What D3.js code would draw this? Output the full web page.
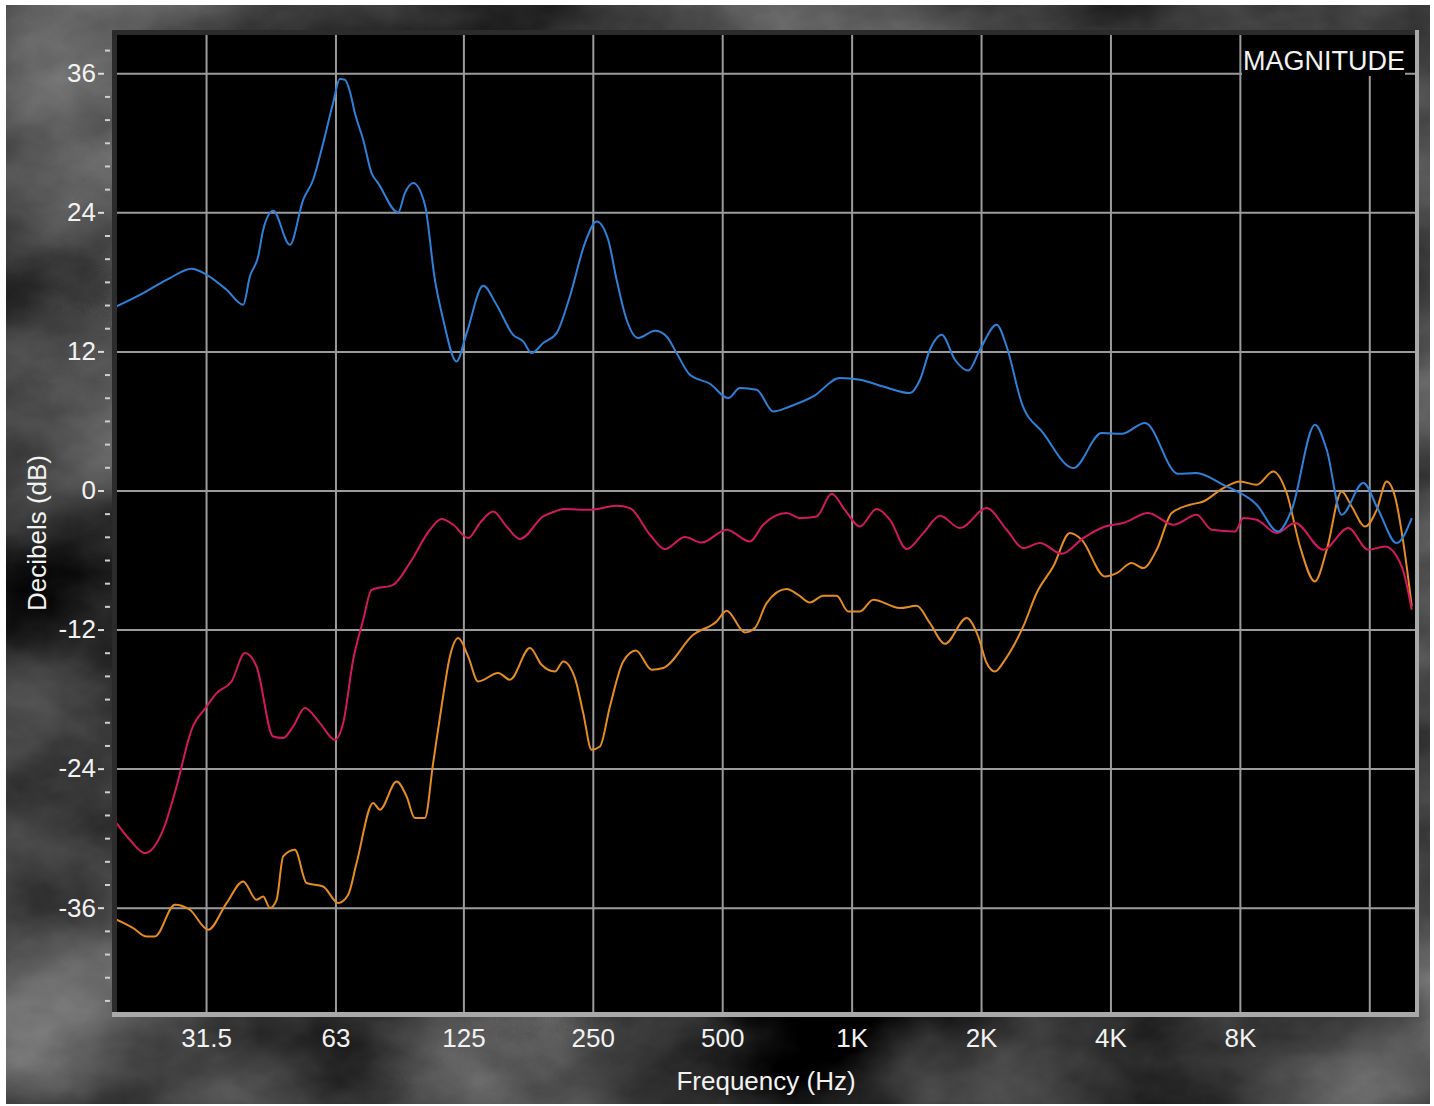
<!DOCTYPE html>
<html>
<head>
<meta charset="utf-8">
<script src="https://cdn.jsdelivr.net/npm/d3@7"></script>
<style>
  body { margin: 0; background: #fff; }
  text { font-family: "Liberation Sans", Arial, sans-serif; fill: #f2f2f2; }
</style>
</head>
<body>
<div class="chart"></div>
<script>
// Magnitude response chart (three traces, log frequency axis)

// ---- data ----
var blueHz = [19.5,22.5,25.95,29.14,31.6,35.16,38.43,39.83,41.64,42.78,
  45.12,49.34,52.99,55.9,58.98,62.2,64.5,66.26,68.06,69.9,
  73.09,76.44,79.19,88.15,91.37,95.53,101.7,107.3,112.2,120.5,
  127.2,139,149.3,163.2,172.2,180.1,191.7,205.9,221.1,239.7,
  255.2,271.5,284,299.6,318.8,348.7,371.2,391.6,420.6,468.1,
  516.4,549.7,601.2,657.1,718.6,814.1,939.3,1045,1184,1367,
  1442,1521,1620,1739,1868,1988,2174,2294,2487,2791,
  3278,3816,4248,4812,5742,6324,7321,8754,9812,10560,
  11960,12740,13800,15490,16790,18520,20090];
var blueDb = [15.88,17.03,18.33,19.13,18.61,17.32,16.02,18.46,20.19,22.49,
  24.13,21.2,25.08,26.81,29.97,33.43,35.5,35.44,34.43,32.56,
  30.26,27.39,26.52,23.99,25.66,26.52,24.65,18.18,14.73,11.13,
  13.58,17.66,16.02,13.43,12.86,11.86,12.72,13.58,16.74,21.35,
  23.21,21.63,18.18,14.73,13.15,13.78,13.29,11.86,9.98,9.21,
  7.97,8.84,8.69,6.82,7.25,8.11,9.70,9.55,8.97,8.40,
  9.55,12.14,13.43,11.28,10.35,12.14,14.3,12.42,7.54,4.95,
  1.93,4.95,4.89,5.82,1.44,1.50,0.49,-1.23,-3.54,-1.67,
  5.67,3.51,-2.10,0.64,-1.67,-4.54,-2.38];

var redHz = [19.5,20.94,22.7,25.03,26.9,29.14,31.6,33.32,36.11,38.78,
  41.28,45.12,47.61,50.23,53.48,57.95,62.8,65.66,69.27,73.09,
  76.44,85.82,93.85,104.5,111.2,118.4,128.2,136.6,146.6,157.5,
  169.2,191.7,204.1,213.4,246.2,284,305,339.5,367.8,409.5,
  447.7,511.9,580,622.7,706,758.2,829.1,898.3,964.7,1045,
  1143,1228,1343,1468,1605,1786,2061,2294,2508,2742,
  3080,3458,3884,4284,4898,5600,6348,6878,7794,8147,
  8754,9742,10750,12510,14300,15920,17400,19040,20090];
var redDb = [-28.7,-30.14,-31.29,-29.28,-25.54,-20.65,-18.64,-17.48,-16.48,-14.03,
  -15.19,-21.23,-21.36,-20.36,-18.77,-20.07,-21.51,-20.07,-14.61,-11.16,
  -8.57,-8.14,-6.26,-3.39,-2.47,-2.96,-4.11,-2.81,-1.81,-3.11,
  -4.19,-2.24,-1.81,-1.60,-1.67,-1.32,-1.52,-3.82,-5.06,-4.02,
  -4.49,-3.39,-4.40,-2.96,-1.95,-2.38,-2.24,-0.28,-1.67,-3.11,
  -1.60,-2.53,-5.06,-3.68,-2.18,-3.24,-1.52,-3.39,-4.97,-4.54,
  -5.46,-4.11,-3.11,-2.81,-1.95,-2.96,-2.10,-3.39,-3.54,-2.38,
  -2.53,-3.68,-2.81,-5.12,-3.24,-5.12,-4.83,-6.56,-10.29];

var orangeHz = [19.5,21.32,22.9,23.95,26.66,28.88,31.86,35.16,38.43,41.28,
  42.78,44.34,45.96,47.61,50.69,53.98,58.98,63.93,67.44,70.54,
  77.1,79.92,87.39,92.21,96.4,101.7,106.3,111.2,116.3,121.6,
  128.2,135.3,150.6,160.4,178.5,190,204.1,213.4,227.2,237.5,
  248.4,259.7,274,294.2,314.9,342.6,364.5,428.1,485.2,511.9,
  564.7,595.7,634.2,706,751.2,799.8,858.9,922.9,981.9,1045,
  1123,1295,1417,1521,1648,1852,1970,2061,2154,2273,
  2508,2694,2944,3220,3428,3884,4135,4482,4769,5123,
  5553,6125,6577,7321,8004,8754,9566,10280,11040,11960,
  12740,13800,14560,15640,16650,17560,18360,19210,20090];
var orangeDb = [-37.04,-37.76,-38.48,-38.48,-35.75,-36.18,-37.9,-35.6,-33.74,-35.32,
  -35.03,-36.03,-35.32,-31.58,-31.0,-33.87,-34.17,-35.6,-34.88,-32.15,
  -26.97,-27.55,-25.11,-26.4,-28.27,-28.27,-23.52,-18.64,-14.32,-12.74,
  -14.32,-16.48,-15.75,-16.33,-13.6,-15.04,-15.62,-14.75,-16.19,-19.21,
  -22.37,-22.09,-18.64,-14.75,-13.8,-15.47,-15.32,-12.45,-11.3,-10.38,
  -12.25,-11.87,-9.72,-8.51,-9.0,-9.66,-9.09,-9.09,-10.44,-10.44,
  -9.43,-10.15,-9.95,-11.44,-13.23,-11.01,-12.6,-14.89,-15.62,-14.61,
  -11.73,-8.85,-6.56,-3.68,-4.25,-7.42,-7.13,-6.26,-6.70,-5.12,
  -1.95,-1.23,-0.95,0.21,0.78,0.49,1.64,-0.22,-4.83,-7.85,
  -5.12,-0.09,-1.38,-3.11,-1.67,0.78,-0.52,-4.54,-10.01];

var xTickHz = [31.5, 63, 125, 250, 500, 1000, 2000, 4000, 8000];
var xTickLabels = ["31.5", "63", "125", "250", "500", "1K", "2K", "4K", "8K"];
var xGridHz = [31.5, 63, 125, 250, 500, 1000, 2000, 4000, 8000, 16000];
var yTickDb = [-36, -24, -12, 0, 12, 24, 36];

// ---- layout ----
var svgWidth = 1434;
var svgHeight = 1106;
var plot = { left: 117, right: 1415, top: 35, bottom: 1012 };
var plotW = plot.right - plot.left;
var plotH = plot.bottom - plot.top;
var fontStack = "'Liberation Sans', Arial, sans-serif";

var svg = d3.select(".chart")
    .append("svg")
    .attr("width", svgWidth)
    .attr("height", svgHeight);

var defs = svg.append("defs");

// dark gray marble backdrop
var marble = defs.append("filter")
    .attr("id", "marble")
    .attr("filterUnits", "userSpaceOnUse")
    .attr("color-interpolation-filters", "sRGB")
    .attr("x", 6).attr("y", 5).attr("width", 1424).attr("height", 1099);
marble.append("feTurbulence")
    .attr("type", "fractalNoise")
    .attr("baseFrequency", "0.0032 0.0045")
    .attr("numOctaves", 6)
    .attr("seed", 11)
    .attr("result", "noise");
marble.append("feColorMatrix")
    .attr("in", "noise")
    .attr("type", "matrix")
    .attr("values", "0.7 0 0 0 -0.1  0.7 0 0 0 -0.1  0.7 0 0 0 -0.1  0 0 0 0 1");

defs.append("clipPath").attr("id", "plotClip")
  .append("rect")
    .attr("x", plot.left).attr("y", plot.top)
    .attr("width", plotW).attr("height", plotH);

svg.append("rect")
    .attr("x", 6).attr("y", 5)
    .attr("width", 1424).attr("height", 1099)
    .attr("fill", "#333")
    .attr("filter", "url(#marble)");

// bevelled frame round the plot
svg.append("rect").attr("x", plot.left - 5).attr("y", plot.top - 5)
    .attr("width", plotW + 9).attr("height", 5).attr("fill", "#2b2b2b");
svg.append("rect").attr("x", plot.left - 5).attr("y", plot.top - 5)
    .attr("width", 5).attr("height", plotH + 9).attr("fill", "#2b2b2b");
svg.append("rect").attr("x", plot.left - 5).attr("y", plot.bottom)
    .attr("width", plotW + 9).attr("height", 5).attr("fill", "#a9a9a9");
svg.append("rect").attr("x", plot.right).attr("y", plot.top - 5)
    .attr("width", 4).attr("height", plotH + 10).attr("fill", "#a9a9a9");

svg.append("rect")
    .attr("x", plot.left).attr("y", plot.top)
    .attr("width", plotW).attr("height", plotH)
    .attr("fill", "#000");

// ---- scales ----
var x = d3.scaleLog().domain([19.55, 20440]).range([plot.left, plot.right]);
var y = d3.scaleLinear().domain([-45, 39.3]).range([plot.bottom, plot.top]);

// ---- grid ----
var vGrid = svg.append("g")
    .attr("transform", `translate(0, ${plot.bottom})`)
    .call(d3.axisBottom(x).tickValues(xGridHz).tickSize(-plotH).tickFormat(""));
var hGrid = svg.append("g")
    .attr("transform", `translate(${plot.left}, 0)`)
    .call(d3.axisLeft(y).tickValues(yTickDb).tickSize(-plotW).tickFormat(""));
[vGrid, hGrid].forEach(function (g) {
    g.select(".domain").remove();
    g.selectAll("line").attr("stroke", "#9b9b9b").attr("stroke-width", 2);
});

// ---- traces ----
var line = d3.line()
    .x(d => x(d[0]))
    .y(d => y(d[1]))
    .curve(d3.curveMonotoneX);

var traces = [
    { hz: orangeHz, db: orangeDb, color: "#e58c22" },
    { hz: redHz, db: redDb, color: "#d0195e" },
    { hz: blueHz, db: blueDb, color: "#2f80d8" }
];

var traceGroup = svg.append("g").attr("clip-path", "url(#plotClip)");
traces.forEach(function (t) {
    traceGroup.append("path")
        .datum(d3.zip(t.hz, t.db))
        .attr("fill", "none")
        .attr("stroke", t.color)
        .attr("stroke-width", 2)
        .attr("stroke-linejoin", "round")
        .attr("d", line);
});

// MAGNITUDE tag, on a black patch that hides the grid behind it
svg.append("rect")
    .attr("x", 1242).attr("y", plot.top)
    .attr("width", 163).attr("height", 41)
    .attr("fill", "#000");
svg.append("text")
    .attr("x", 1243).attr("y", 70)
    .attr("font-size", 27)
    .text("MAGNITUDE");

// ---- axes ----
var xAxis = svg.append("g")
    .attr("transform", `translate(0, ${plot.bottom})`)
    .call(d3.axisBottom(x)
        .tickValues(xTickHz)
        .tickSize(0)
        .tickPadding(17)
        .tickFormat((d, i) => xTickLabels[i]));
xAxis.select(".domain").remove();
xAxis.selectAll("text")
    .attr("font-size", 26)
    .style("font-family", fontStack)
    .attr("fill", "#f2f2f2");

var yAxis = svg.append("g")
    .attr("transform", "translate(104, 0)")
    .call(d3.axisLeft(y).tickValues(yTickDb).tickSize(6).tickPadding(2)
        .tickFormat(d => String(d)));
yAxis.select(".domain").remove();
yAxis.selectAll("line").attr("stroke", "#dcdcdc").attr("stroke-width", 2);
yAxis.selectAll("text")
    .attr("font-size", 26)
    .style("font-family", fontStack)
    .attr("fill", "#f2f2f2");

var minorDb = d3.range(-44, 39, 2).filter(d => d % 12 !== 0);
var yMinor = svg.append("g")
    .attr("transform", "translate(110, 0)")
    .call(d3.axisLeft(y).tickValues(minorDb).tickSize(5).tickFormat(""));
yMinor.select(".domain").remove();
yMinor.selectAll("line").attr("stroke", "#cfcfcf").attr("stroke-width", 2);

// axis titles
svg.append("text")
    .attr("x", (plot.left + plot.right) / 2)
    .attr("y", 1090)
    .attr("text-anchor", "middle")
    .attr("font-size", 26)
    .text("Frequency (Hz)");

svg.append("text")
    .attr("transform", "translate(46, 533) rotate(-90)")
    .attr("text-anchor", "middle")
    .attr("font-size", 26)
    .text("Decibels (dB)");
</script>
</body>
</html>
